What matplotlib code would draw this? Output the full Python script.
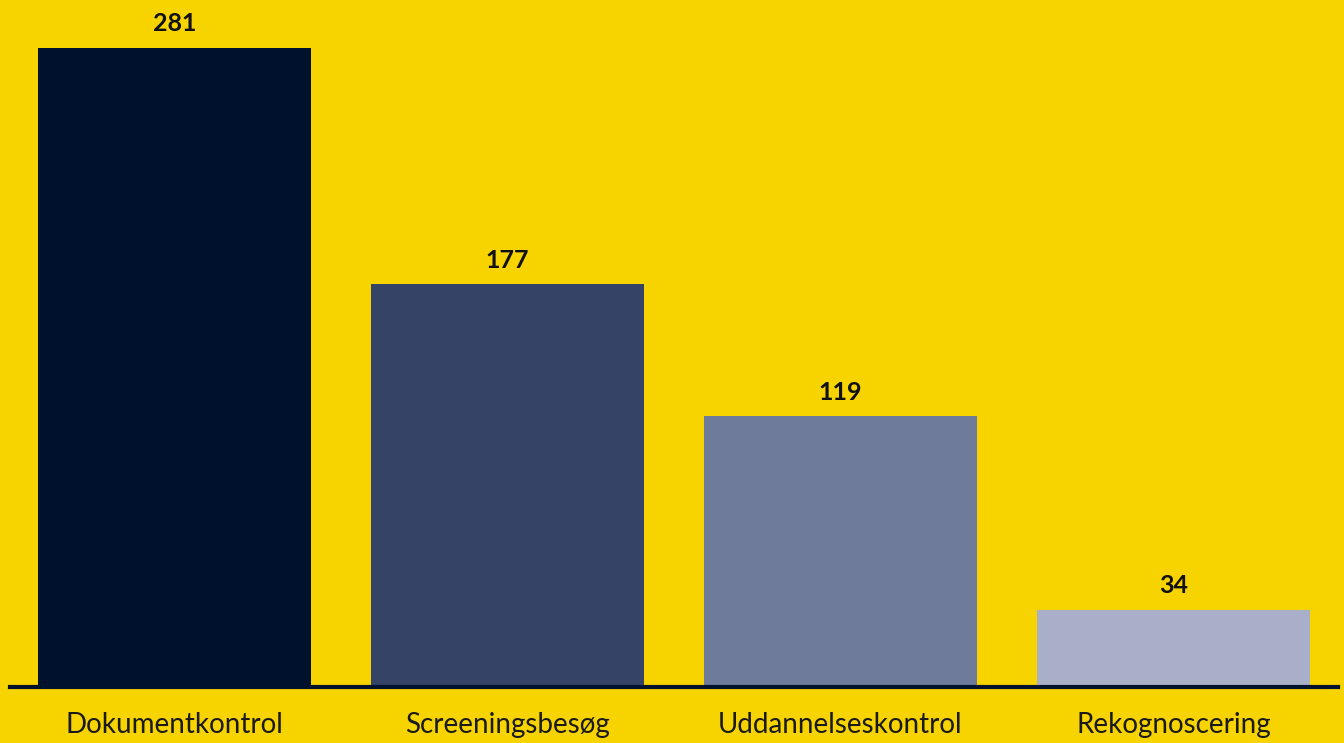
import matplotlib.pyplot as plt

plt.rcParams["font.family"] = ["Lato", "DejaVu Sans"]

# Data
categories = ["Dokumentkontrol", "Screeningsbesøg", "Uddannelseskontrol", "Rekognoscering"]
values = [281, 177, 119, 34]
colors = ["#00112E", "#344366", "#6F7B9B", "#A9AFC9"]

BG = "#F7D300"

fig = plt.figure(figsize=(13.44, 7.43), dpi=100, facecolor=BG)
ax = fig.add_axes([10 / 1344, 56 / 743, 1328 / 1344, 687 / 743])
ax.set_facecolor(BG)

x = range(len(categories))
bars = ax.bar(x, values, width=0.82, color=colors, zorder=2)

for xi, v in zip(x, values):
    ax.annotate(str(v), (xi, v), textcoords="offset points", xytext=(0, 9),
                ha="center", va="bottom", fontsize=18, fontweight="bold",
                color="#111111")

ax.set_xlim(-0.494, 3.494)
ax.set_ylim(0, 302)

for s in ["top", "right", "left"]:
    ax.spines[s].set_visible(False)
ax.spines["bottom"].set_color("#00112E")
ax.spines["bottom"].set_linewidth(3)
ax.spines["bottom"].set_zorder(3)

ax.set_yticks([])
ax.set_xticks(list(x))
ax.set_xticklabels(categories, fontsize=20, color="#1a1a1a")
ax.tick_params(axis="x", length=0, pad=18)

fig.savefig("out.png", dpi=100, facecolor=BG)
